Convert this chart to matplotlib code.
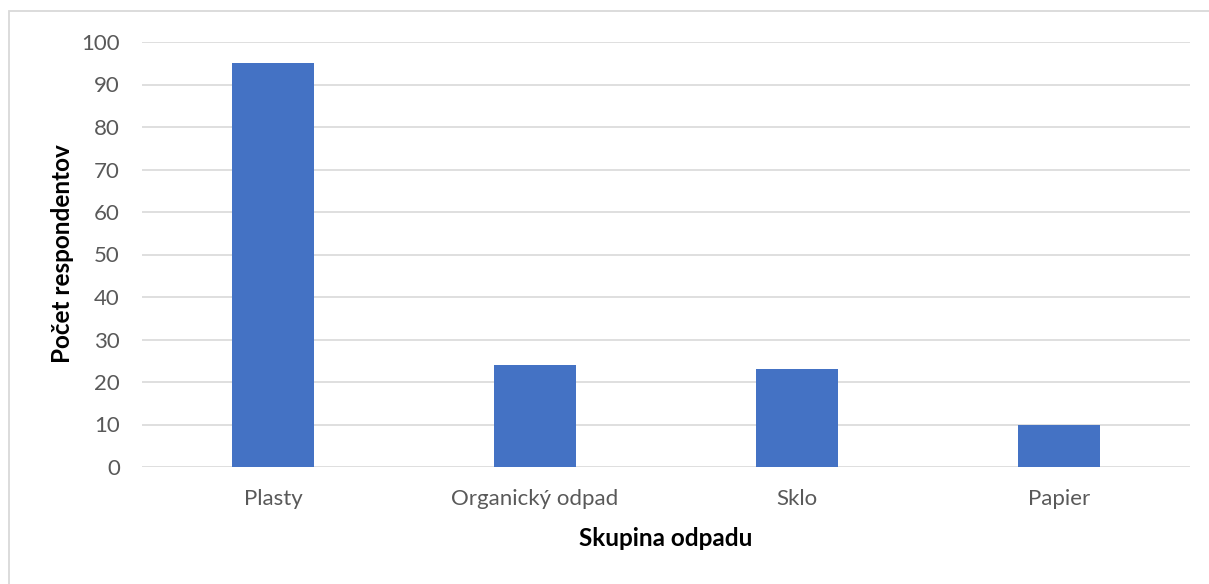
import matplotlib.pyplot as plt
from matplotlib.patches import Rectangle

categories = ['Plasty', 'Organický odpad', 'Sklo', 'Papier']
counts = [95, 24, 23, 10]
y_ticks = list(range(0, 101, 10))

plt.rcParams['font.family'] = ['Lato', 'DejaVu Sans']

fig = plt.figure(figsize=(12.09, 5.84), dpi=100)
ax = fig.add_axes([142 / 1209, 1 - 467 / 584, 1048 / 1209, 425 / 584])

# chart border, cropped at right and bottom like the original
fig.patches.append(Rectangle((9 / 1209, -0.1), 1.2, 1 - 11 / 584 + 0.1,
                             transform=fig.transFigure, fill=False,
                             edgecolor='#D9D9D9', linewidth=1.3))

x = range(len(categories))
ax.bar(x, counts, width=0.313, color='#4472C4', zorder=3)

ax.set_xlim(-0.5, len(categories) - 0.5)
ax.set_ylim(0, 100)
ax.set_yticks(y_ticks)
ax.set_xticks(list(x))
ax.set_xticklabels(categories)
ax.grid(axis='y', color='#D9D9D9', linewidth=1.2, zorder=0)
ax.tick_params(length=0, labelsize=16, colors='#595959')
ax.tick_params(axis='y', pad=16)
ax.tick_params(axis='x', pad=15.5)
for s in ax.spines.values():
    s.set_visible(False)

ax.set_xlabel('Skupina odpadu', fontsize=17.5, fontweight='bold', va='center')
ax.set_ylabel('Počet respondentov', fontsize=17.5, fontweight='bold',
              va='center', ha='center')
ax.xaxis.set_label_coords(0.5, (467 - 539) / 425)
ax.yaxis.set_label_coords((62 - 142) / 1048, (467 - 254) / 425)

fig.savefig('out.png', dpi=100)
